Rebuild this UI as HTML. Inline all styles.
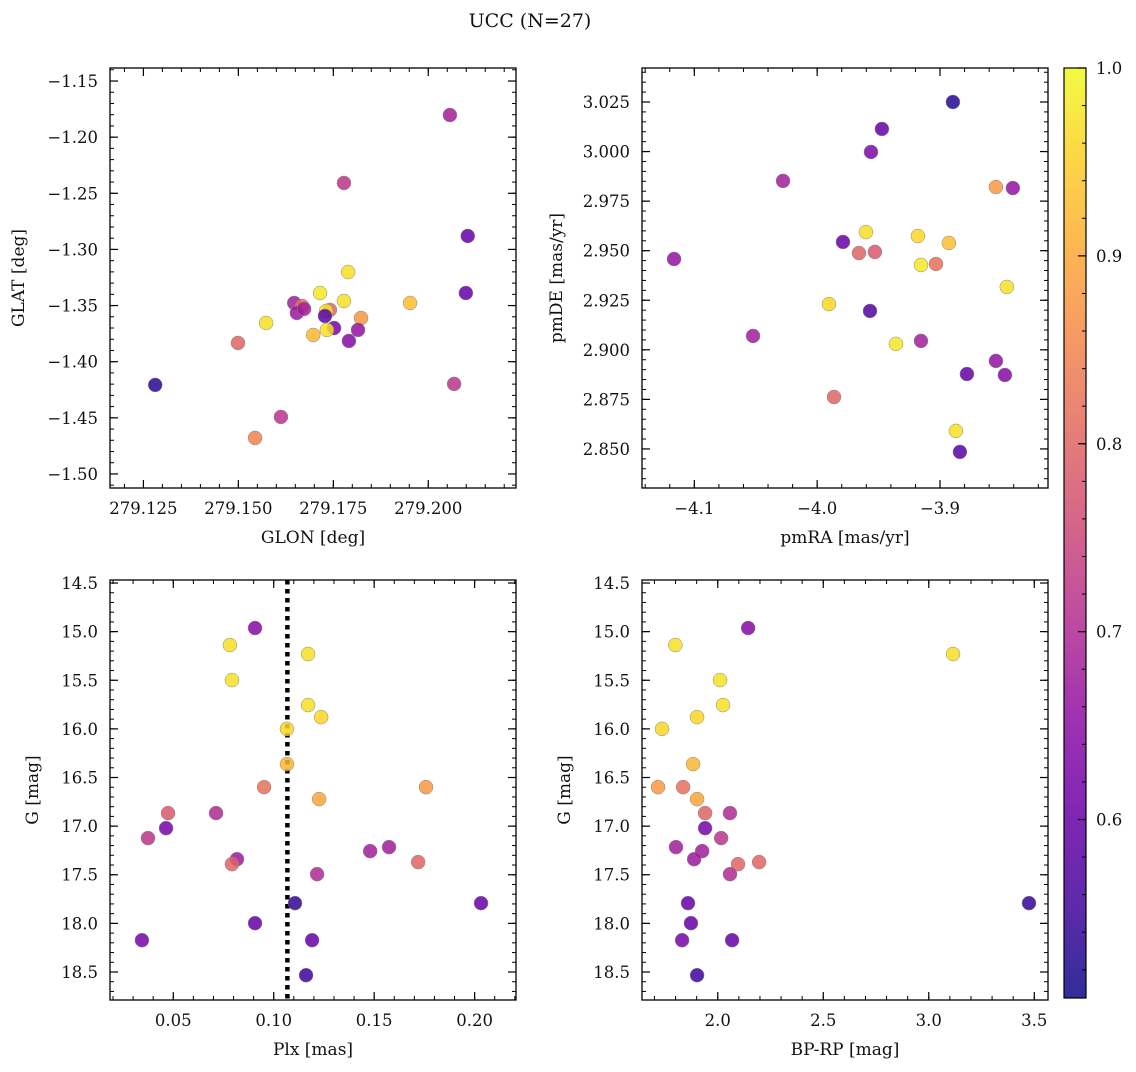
<!DOCTYPE html>
<html><head><meta charset="utf-8"><style>
body{margin:0;background:#fff;}
svg text{font-family:"DejaVu Serif","Liberation Serif",serif;fill:#111;}
</style></head><body>
<svg id="fig" width="1136" height="1067" viewBox="0 0 1136 1067" xmlns="http://www.w3.org/2000/svg">
<text x="530" y="27" font-size="19" text-anchor="middle">UCC (N=27)</text>
</svg>
<script>
// Panel 1: GLON vs GLAT
const glon=[279.2057,279.1778,279.2104,279.1789,279.1715,279.1778,279.2099,279.1952,279.1647,279.1668,279.1741,279.1731,279.1654,279.1728,279.1673,279.1573,279.1823,279.1752,279.1815,279.1733,279.1697,279.1791,279.1499,279.1281,279.2068,279.1612,279.1544];
const glat=[-1.1803,-1.2408,-1.2880,-1.3201,-1.3388,-1.3459,-1.3388,-1.3477,-1.3477,-1.3504,-1.3539,-1.3548,-1.3566,-1.3593,-1.3530,-1.3655,-1.3611,-1.3700,-1.3717,-1.3717,-1.3762,-1.3815,-1.3833,-1.4207,-1.4198,-1.4492,-1.4679];
const prob1=[0.68,0.72,0.60,0.97,0.98,0.97,0.60,0.93,0.68,0.82,0.80,0.97,0.67,0.58,0.68,0.97,0.88,0.62,0.66,0.97,0.92,0.64,0.80,0.53,0.72,0.72,0.85];
// Panel 2: pmRA vs pmDE
const pmra=[-3.8895,-3.9473,-3.9562,-4.0278,-3.8545,-3.8407,-3.9603,-3.9180,-3.8928,-3.9790,-4.1165,-3.9660,-3.9530,-3.9033,-3.9155,-3.8456,-3.9904,-3.9570,-4.0522,-3.9155,-3.9359,-3.8781,-3.8545,-3.8472,-3.9863,-3.8871,-3.8838];
const pmde=[3.0250,3.0114,2.9998,2.9852,2.9821,2.9816,2.9594,2.9574,2.9539,2.9544,2.9458,2.9488,2.9494,2.9433,2.9428,2.9317,2.9231,2.9196,2.9070,2.9045,2.9030,2.8878,2.8944,2.8873,2.8762,2.8591,2.8485];
const prob2=[0.53,0.60,0.63,0.68,0.88,0.66,0.97,0.96,0.93,0.60,0.66,0.80,0.78,0.82,0.98,0.97,0.96,0.57,0.68,0.68,0.98,0.60,0.66,0.64,0.80,0.97,0.58];
// Panel 3: Plx vs G
const plx=[0.0907,0.0782,0.1171,0.0792,0.1171,0.1236,0.1066,0.1066,0.0952,0.1758,0.1226,0.0474,0.0713,0.0464,0.0374,0.1574,0.1480,0.0817,0.0792,0.1719,0.1216,0.1106,0.2032,0.0907,0.0344,0.1191,0.1161];
const gmag3=[14.963,15.138,15.230,15.498,15.755,15.879,16.000,16.362,16.599,16.599,16.722,16.866,16.866,17.021,17.123,17.216,17.257,17.340,17.391,17.370,17.494,17.792,17.792,17.998,18.173,18.173,18.533];
const prob3=[0.64,0.97,0.97,0.97,0.97,0.96,0.96,0.92,0.82,0.88,0.90,0.78,0.70,0.62,0.72,0.68,0.68,0.67,0.80,0.80,0.70,0.54,0.60,0.60,0.62,0.60,0.55];
const plxLine=0.1068;
// Panel 4: BP-RP vs G
const bprp=[2.144,1.799,3.115,2.011,2.025,1.902,1.736,1.883,1.717,1.836,1.902,1.940,2.058,1.940,2.016,1.802,1.926,1.888,2.096,2.196,2.058,3.475,1.859,1.873,1.831,2.068,1.902];
const gmag4=[14.963,15.138,15.230,15.498,15.755,15.879,16.000,16.362,16.599,16.599,16.722,16.866,16.866,17.021,17.123,17.216,17.257,17.340,17.391,17.370,17.494,17.792,17.792,17.998,18.173,18.173,18.533];
const prob4=[0.64,0.97,0.97,0.97,0.97,0.96,0.96,0.92,0.88,0.82,0.90,0.80,0.70,0.62,0.72,0.68,0.68,0.67,0.80,0.80,0.70,0.54,0.60,0.60,0.62,0.60,0.55];
const cbTicks=[0.6,0.7,0.8,0.9,1.0];
const cbLabels=["0.6","0.7","0.8","0.9","1.0"];

const NS="http://www.w3.org/2000/svg";
const svg=document.getElementById('fig');
function mk(tag,attrs,parent){const e=document.createElementNS(NS,tag);for(const k in attrs)e.setAttribute(k,attrs[k]);(parent||svg).appendChild(e);return e;}
const CMIN=0.505,CMAX=1.0;
const stops=["#0d0887","#41049d","#6a00a8","#8f0da4","#b12a90","#cc4778","#e16462","#f2844b","#fca636","#fcce25","#f0f921"];
function hex(h){return [1,3,5].map(i=>parseInt(h.substr(i,2),16));}
function cmap(v){let t=(v-CMIN)/(CMAX-CMIN);t=Math.max(0,Math.min(1,t));const f=t*10;const i=Math.min(9,Math.floor(f));const a=hex(stops[i]),b=hex(stops[i+1]);const u=f-i;return 'rgb('+a.map((c,k)=>Math.round(c+(b[k]-c)*u)).join(',')+')';}

function fmt(v,d){return (v<0?'\u2212':'')+Math.abs(v).toFixed(d);}
function panel(o){
  const g=mk('g',{});
  
  
  const sx=v=>o.x0+(v-o.xmin)/(o.xmax-o.xmin)*(o.x1-o.x0);
  const sy=v=>o.inv? o.y0+(v-o.ymin)/(o.ymax-o.ymin)*(o.y1-o.y0) : o.y1-(v-o.ymin)/(o.ymax-o.ymin)*(o.y1-o.y0);
  const eps=1e-9;
  for(let v=Math.ceil(o.xmin/o.xminor-eps)*o.xminor; v<=o.xmax+eps; v+=o.xminor){const x=sx(v);
    mk('line',{x1:x,x2:x,y1:o.y1,y2:o.y1-4,stroke:'#000','stroke-width':1},g);mk('line',{x1:x,x2:x,y1:o.y0,y2:o.y0+4,stroke:'#000','stroke-width':1},g);}
  for(let v=Math.ceil(o.ymin/o.yminor-eps)*o.yminor; v<=o.ymax+eps; v+=o.yminor){const y=sy(v);
    mk('line',{x1:o.x0,x2:o.x0+4,y1:y,y2:y,stroke:'#000','stroke-width':1},g);mk('line',{x1:o.x1,x2:o.x1-4,y1:y,y2:y,stroke:'#000','stroke-width':1},g);}
  o.xt.forEach(v=>{const x=sx(v);
    mk('line',{x1:x,x2:x,y1:o.y1,y2:o.y1-8,stroke:'#000','stroke-width':1.2},g);mk('line',{x1:x,x2:x,y1:o.y0,y2:o.y0+8,stroke:'#000','stroke-width':1.2},g);
    const t=mk('text',{x:x,y:o.y1+26,'font-size':16.5,'text-anchor':'middle'},g);t.textContent=fmt(v,o.xd);
    
    });
  o.yt.forEach(v=>{const y=sy(v);
    mk('line',{x1:o.x0,x2:o.x0+8,y1:y,y2:y,stroke:'#000','stroke-width':1.2},g);mk('line',{x1:o.x1,x2:o.x1-8,y1:y,y2:y,stroke:'#000','stroke-width':1.2},g);
    const t=mk('text',{x:o.x0-12,y:y+6,'font-size':16.5,'text-anchor':'end'},g);t.textContent=fmt(v,o.yd);
    
    });
  if(o.vline!==undefined){const l=mk('line',{x1:sx(o.vline),x2:sx(o.vline),y1:o.y0,y2:o.y1,stroke:'#000','stroke-width':4.5,'stroke-dasharray':'4.5,4.5'},g);
    
    }
  o.xs.forEach((xv,i)=>{const c=mk('circle',{cx:sx(xv),cy:sy(o.ys[i]),r:7,fill:cmap(o.c[i]),'fill-opacity':0.85,stroke:'#888','stroke-width':0.5},g);
    
    });
  mk('rect',{x:o.x0,y:o.y0,width:o.x1-o.x0,height:o.y1-o.y0,fill:'none',stroke:'#000','stroke-width':1.3},g);
  const xl=mk('text',{x:(o.x0+o.x1)/2,y:o.y1+55,'font-size':17,'text-anchor':'middle'},g);xl.textContent=o.xlabel;
  
  
  const cy=(o.y0+o.y1)/2;
  const yl=mk('text',{x:o.ylx,y:cy,'font-size':17,'text-anchor':'middle',transform:'rotate(-90 '+o.ylx+' '+cy+')'},g);yl.textContent=o.ylabel;
  
  
}
panel({name:'glon-glat-panel',x0:110,x1:516,y0:68,y1:488,xmin:279.1162,xmax:279.2231,ymin:-1.5125,ymax:-1.1384,xminor:0.005,yminor:0.01,
  xt:[279.125,279.15,279.175,279.2],xd:3,yt:[-1.5,-1.45,-1.4,-1.35,-1.3,-1.25,-1.2,-1.15],yd:2,xs:glon,ys:glat,c:prob1,xlabel:'GLON [deg]',ylabel:'GLAT [deg]',ylx:24});
panel({name:'pm-panel',x0:642,x1:1048,y0:68,y1:488,xmin:-4.1426,xmax:-3.8121,ymin:2.8303,ymax:3.04215,xminor:0.02,yminor:0.005,
  xt:[-4.1,-4.0,-3.9],xd:1,yt:[2.85,2.875,2.9,2.925,2.95,2.975,3.0,3.025],yd:3,xs:pmra,ys:pmde,c:prob2,xlabel:'pmRA [mas/yr]',ylabel:'pmDE [mas/yr]',ylx:562});
panel({name:'plx-g-panel',x0:110,x1:516,y0:580,y1:1000,xmin:0.0185,xmax:0.2206,ymin:14.469,ymax:18.788,inv:true,xminor:0.01,yminor:0.1,
  xt:[0.05,0.1,0.15,0.2],xd:2,yt:[14.5,15,15.5,16,16.5,17,17.5,18,18.5],yd:1,xs:plx,ys:gmag3,c:prob3,vline:plxLine,xlabel:'Plx [mas]',ylabel:'G [mag]',ylx:38});
panel({name:'cmd-panel',x0:642,x1:1048,y0:580,y1:1000,xmin:1.641,xmax:3.565,ymin:14.469,ymax:18.788,inv:true,xminor:0.1,yminor:0.1,
  xt:[2.0,2.5,3.0,3.5],xd:1,yt:[14.5,15,15.5,16,16.5,17,17.5,18,18.5],yd:1,xs:bprp,ys:gmag4,c:prob4,xlabel:'BP-RP [mag]',ylabel:'G [mag]',ylx:570});

// colorbar
const cb=mk('g',{});


const defs=mk('defs',{},cb);
const lg=mk('linearGradient',{id:'cbg',x1:0,y1:1,x2:0,y2:0},defs);
stops.forEach((s,i)=>mk('stop',{offset:i/10,'stop-color':s,'stop-opacity':0.85},lg));
const CB0=68,CB1=998,CBX=1064,CBW=22;
mk('rect',{x:CBX,y:CB0,width:CBW,height:CB1-CB0,fill:'url(#cbg)',stroke:'#000','stroke-width':1.2},cb);
const cby=v=>CB1-(v-CMIN)/(CMAX-CMIN)*(CB1-CB0);
for(let v=0.52;v<=1.0001;v+=0.02){const y=cby(v);mk('line',{x1:CBX+CBW,x2:CBX+CBW-4,y1:y,y2:y,stroke:'#000'},cb);}
cbTicks.forEach((v,i)=>{const y=cby(v);mk('line',{x1:CBX+CBW,x2:CBX+CBW-8,y1:y,y2:y,stroke:'#000','stroke-width':1.2},cb);
  const t=mk('text',{x:CBX+CBW+10,y:y+6,'font-size':16.5},cb);t.textContent=cbLabels[i];
  
  });
</script>
</body></html>
